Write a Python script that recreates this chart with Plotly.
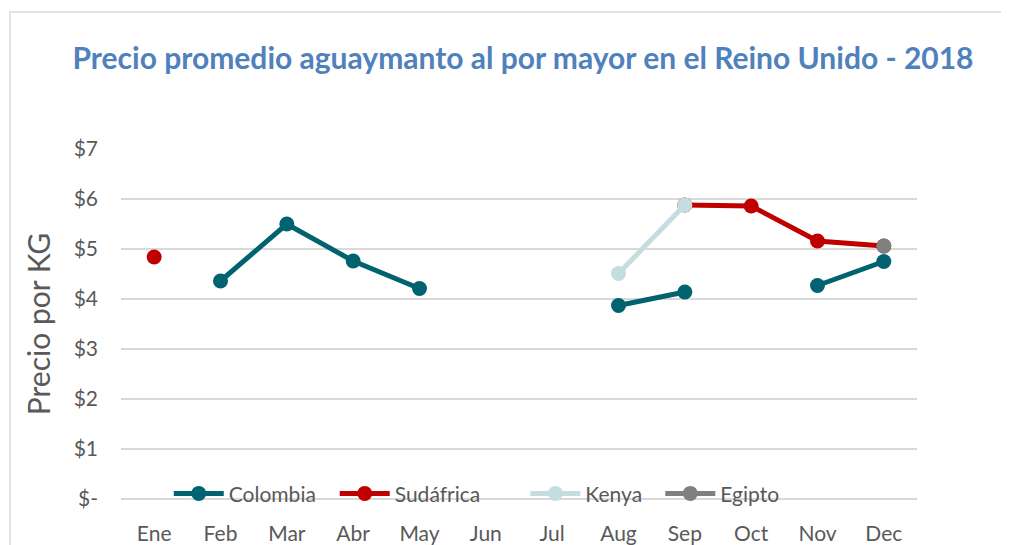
import plotly.graph_objects as go

months = ["Ene", "Feb", "Mar", "Abr", "May", "Jun", "Jul", "Aug", "Sep", "Oct", "Nov", "Dec"]
colombia = [None, 4.36, 5.50, 4.76, 4.21, None, None, 3.87, 4.14, None, 4.27, 4.75]
sudafrica = [4.84, None, None, None, None, None, None, None, 5.88, 5.86, 5.16, 5.06]
kenya = [None, None, None, None, None, None, None, 4.51, 5.88, None, None, None]
egipto = [None, None, None, None, None, None, None, None, None, None, None, 5.06]
ytick_vals = [0, 1, 2, 3, 4, 5, 6, 7]
ytick_text = ["$-", "$1", "$2", "$3", "$4", "$5", "$6", "$7"]

series = [
    ("Colombia", colombia, "#00636F", "legend", 0.060),
    ("Sudáfrica", sudafrica, "#C00000", "legend2", 0.2685),
    ("Kenya", kenya, "#C4DDE0", "legend3", 0.508),
    ("Egipto", egipto, "#808080", "legend4", 0.6775),
]

fig = go.Figure()
for name, vals, color, leg, _ in series:
    fig.add_trace(go.Scatter(
        x=months, y=vals, name=name, mode="lines+markers",
        line=dict(color=color, width=5),
        marker=dict(color=color, size=15),
        connectgaps=False, legend=leg,
    ))

font_family = "Lato, 'Open Sans', sans-serif"
W, H = 1001, 537
L, T, PW, PH = 113, 141, 796, 350

legend_layout = {}
for name, vals, color, leg, lx in series:
    legend_layout[leg] = dict(
        orientation="h", x=lx, xanchor="left", y=0.015, yanchor="middle",
        bgcolor="rgba(0,0,0,0)", font=dict(size=21, color="#595959", family=font_family),
        itemwidth=50,
    )

fig.update_layout(
    width=W, height=H,
    margin=dict(l=L, r=W - L - PW, t=T, b=H - T - PH),
    paper_bgcolor="white", plot_bgcolor="white",
    font=dict(family=font_family, color="#595959", size=21),
    title=dict(
        text="<b>Precio promedio aguaymanto al por mayor en el Reino Unido - 2018</b>",
        xref="container", x=515 / W, xanchor="center", yref="container", y=1 - 50 / H, yanchor="middle",
        font=dict(size=30, color="#4F81BD", family=font_family),
    ),
    showlegend=True,
    xaxis=dict(
        type="category", categoryorder="array", categoryarray=months,
        range=[-0.5, len(months) - 0.5],
        showgrid=False, showline=False, ticks="", ticklabelstandoff=20, automargin=False,
        tickfont=dict(size=21, color="#595959"),
    ),
    yaxis=dict(
        range=[0, 7], tickvals=ytick_vals, ticktext=ytick_text,
        showgrid=True, gridcolor="#D9D9D9", gridwidth=2,
        zeroline=True, zerolinecolor="#D9D9D9", zerolinewidth=2,
        showline=False, ticks="", ticklabelstandoff=22, automargin=False,
        tickfont=dict(size=21, color="#595959"),
        title=dict(text="Precio por KG", font=dict(size=30, color="#595959"), standoff=14),
    ),
    shapes=[dict(type="rect", xref="paper", yref="paper",
                 x0=(2 - L) / PW, x1=(1020 - L) / PW, y0=-150 / PH, y1=(T + PH - 4) / PH,
                 line=dict(color="#D9D9D9", width=1.5), fillcolor="rgba(0,0,0,0)", layer="below")],
    **legend_layout,
)

fig.write_html("out.html")
